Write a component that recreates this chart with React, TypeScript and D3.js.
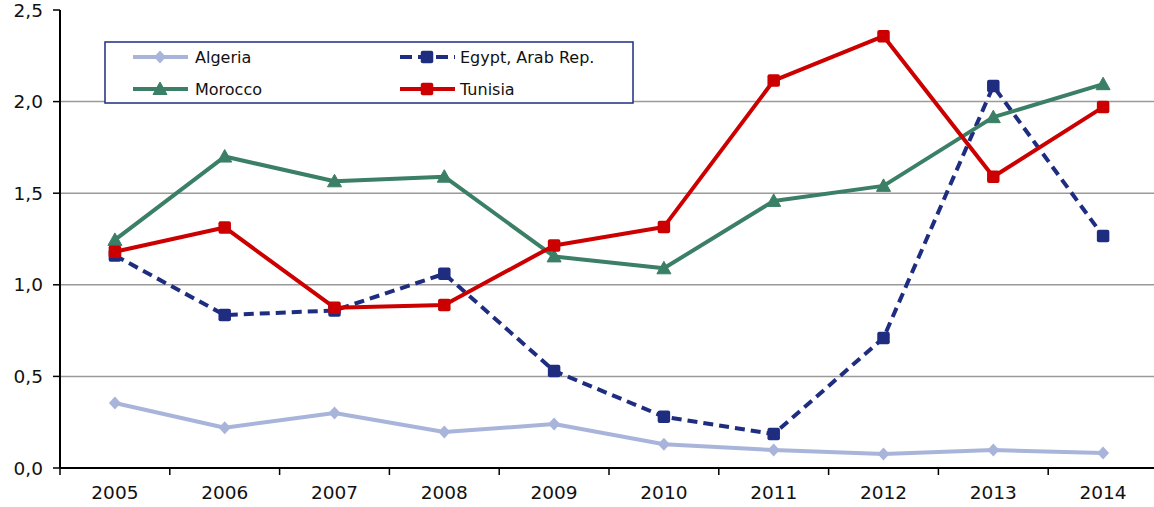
import React from "react";
import * as d3 from "d3";

const years = ["2005", "2006", "2007", "2008", "2009", "2010", "2011", "2012", "2013", "2014"];
const algeria = [0.355, 0.22, 0.3, 0.196, 0.24, 0.13, 0.098, 0.076, 0.098, 0.082];
const egypt = [1.16, 0.835, 0.86, 1.06, 0.53, 0.28, 0.185, 0.71, 2.085, 1.266];
const morocco = [1.245, 1.7, 1.565, 1.59, 1.155, 1.09, 1.458, 1.54, 1.915, 2.095];
const tunisia = [1.18, 1.313, 0.875, 0.89, 1.215, 1.316, 2.115, 2.357, 1.59, 1.97];
const yTicks = [0, 0.5, 1, 1.5, 2, 2.5];

type Marker = "diamond" | "square" | "triangle";
interface Series {
  name: string;
  values: number[];
  color: string;
  dash?: string;
  marker: Marker;
  width: number;
}

const series: Series[] = [
  { name: "Algeria", values: algeria, color: "#A9B4DA", marker: "diamond", width: 4 },
  { name: "Egypt, Arab Rep.", values: egypt, color: "#1F2D80", marker: "square", dash: "10,6", width: 4 },
  { name: "Morocco", values: morocco, color: "#3A7F66", marker: "triangle", width: 4 },
  { name: "Tunisia", values: tunisia, color: "#CC0000", marker: "square", width: 4 },
];

const W = 1154;
const H = 507;
const left = 60;
const right = 1158;
const top = 10;
const bottom = 468;
const font = "Verdana, 'DejaVu Sans', sans-serif";

const x = d3.scaleBand<string>().domain(years).range([left, right]);
const y = d3.scaleLinear().domain([0, 2.5]).range([bottom, top]);
const fmt = (v: number) => d3.format(".1f")(v).replace(".", ",");

function markerShape(m: Marker, cx: number, cy: number, color: string, key: string | number) {
  if (m === "diamond") {
    const w = 6;
    const h = 6.5;
    return <path key={key} d={`M${cx},${cy - h}L${cx + w},${cy}L${cx},${cy + h}L${cx - w},${cy}Z`} fill={color} />;
  }
  if (m === "triangle") {
    const s = 7;
    return (
      <path
        key={key}
        d={`M${cx},${cy - s}L${cx + s},${cy + 5.5}L${cx - s},${cy + 5.5}Z`}
        fill={color}
        strokeLinejoin="round"
        stroke={color}
        strokeWidth={1}
      />
    );
  }
  return <rect key={key} x={cx - 6.25} y={cy - 6.25} width={12.5} height={12.5} rx={2} fill={color} />;
}

export default function App() {
  const line = d3
    .line<number>()
    .x((_, i) => (x(years[i]) as number) + x.bandwidth() / 2)
    .y((v) => y(v));

  const legendItems = [
    { s: series[0], lx: 133, tx: 195, ly: 57 },
    { s: series[1], lx: 400, tx: 460, ly: 57 },
    { s: series[2], lx: 133, tx: 195, ly: 89 },
    { s: series[3], lx: 400, tx: 460, ly: 89 },
  ];

  return (
    <svg width={W} height={H} style={{ position: "absolute", left: 0, top: 0, background: "#fff" }} fontFamily={font}>
      {/* horizontal gridlines */}
      {yTicks.filter((t) => t > 0 && t < 2.5).map((t) => (
        <line key={t} x1={left} x2={W} y1={y(t)} y2={y(t)} stroke="#9a9a9a" strokeWidth={1.5} />
      ))}

      {/* y axis */}
      <line x1={left} x2={left} y1={top} y2={bottom} stroke="#000" strokeWidth={2} />
      {yTicks.map((t) => (
        <g key={t}>
          <line x1={left - 7} x2={left} y1={y(t)} y2={y(t)} stroke="#000" strokeWidth={1.5} />
          <text x={43} y={y(t)} dy="0.36em" textAnchor="end" fontSize={18.5} fill="#111">
            {fmt(t)}
          </text>
        </g>
      ))}

      {/* x axis */}
      <line x1={left} x2={W} y1={bottom} y2={bottom} stroke="#000" strokeWidth={2} />
      {years.map((yr) => (
        <g key={yr}>
          <line x1={x(yr)} x2={x(yr)} y1={bottom} y2={bottom + 7} stroke="#000" strokeWidth={1.5} />
          <text x={(x(yr) as number) + x.bandwidth() / 2} y={499} textAnchor="middle" fontSize={18.5} fill="#111">
            {yr}
          </text>
        </g>
      ))}

      {/* series */}
      {series.map((s) => (
        <g key={s.name}>
          <path
            d={line(s.values) || ""}
            fill="none"
            stroke={s.color}
            strokeWidth={s.width}
            strokeDasharray={s.dash}
            strokeLinejoin="round"
          />
          {s.values.map((v, i) => markerShape(s.marker, (x(years[i]) as number) + x.bandwidth() / 2, y(v), s.color, i))}
        </g>
      ))}

      {/* legend */}
      <rect x={105} y={42} width={528} height={61} fill="#fff" stroke="#1F2D80" strokeWidth={1.5} />
      {legendItems.map(({ s, lx, tx, ly }) => (
        <g key={s.name}>
          <line
            x1={lx}
            x2={lx + 55}
            y1={ly}
            y2={ly}
            stroke={s.color}
            strokeWidth={4}
            strokeDasharray={s.dash ? "12,6" : undefined}
          />
          {markerShape(s.marker, lx + 27, ly, s.color, "m")}
          <text x={tx} y={ly} dy="0.36em" fontSize={16} fill="#111">
            {s.name}
          </text>
        </g>
      ))}
    </svg>
  );
}
